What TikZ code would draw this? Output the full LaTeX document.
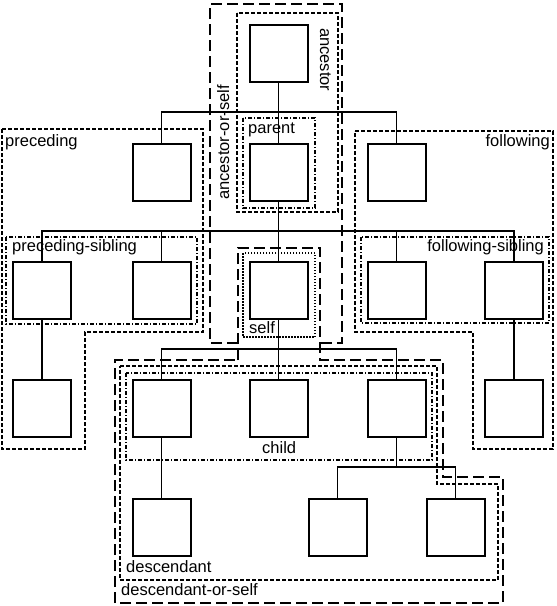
\documentclass[tikz,border=0pt]{standalone}
\usepackage{fontspec}
\setmainfont{Liberation Sans}
\begin{document}
\begin{tikzpicture}[x=1pt,y=-1pt,
  treebox/.style={draw,line width=2pt,minimum width=58pt,minimum height=57pt,inner sep=0pt},
  treeline/.style={line width=1.6pt},
  bigdash/.style={line width=2.4pt,dash pattern=on 11pt off 5pt},
  fdash/.style={line width=1.3pt,dash pattern=on 4pt off 2pt},
  ddot/.style={line width=1.1pt,dash pattern=on 4pt off 2pt on 1pt off 2pt},
  sdot/.style={line width=1.5pt,dash pattern=on 1.5pt off 1.5pt},
  lbl/.style={inner sep=0pt,font=\fontsize{16.5}{18}\selectfont}]
\useasboundingbox (0,0) rectangle (557,606);
% tree nodes
\node[treebox] (root) at (278.5,53) {};
\node[treebox] (prec) at (161.5,172) {};
\node[treebox] (par) at (278.5,172) {};
\node[treebox] (foll) at (396.5,172) {};
\node[treebox] (ps1) at (42,290) {};
\node[treebox] (ps2) at (161.5,290) {};
\node[treebox] (self) at (278.5,290) {};
\node[treebox] (fs1) at (396.5,290) {};
\node[treebox] (fs2) at (514,290) {};
\node[treebox] (pl) at (42,408) {};
\node[treebox] (ch1) at (161.5,408) {};
\node[treebox] (ch2) at (278.5,408) {};
\node[treebox] (ch3) at (396.5,408) {};
\node[treebox] (fl) at (514,408) {};
\node[treebox] (d1) at (161.5,527) {};
\node[treebox] (d2) at (337.5,527) {};
\node[treebox] (d3) at (455.5,527) {};
% bus coordinates
\coordinate (bus1) at (0,112);
\coordinate (bus2) at (0,231);
\coordinate (bus3) at (0,349);
\coordinate (bus4) at (0,467);
% connectors
\draw[treeline] (root.south) -- (par.north);
\draw[treeline] (prec.north) -- (prec.north |- bus1) -| (foll.north);
\draw[treeline] (par.south) -- (self.north);
\draw[treeline] (ps1.north) -- (ps1.north |- bus2) -| (fs2.north);
\draw[treeline] (ps2.north) -- (ps2.north |- bus2);
\draw[treeline] (fs1.north) -- (fs1.north |- bus2);
\draw[treeline] (self.south) -- (ch2.north);
\draw[treeline] (ch1.north) -- (ch1.north |- bus3) -| (ch3.north);
\draw[treeline] (ps1.south) -- (pl.north);
\draw[treeline] (fs2.south) -- (fl.north);
\draw[treeline] (ch1.south) -- (d1.north);
\draw[treeline] (ch3.south) -- (ch3.south |- bus4);
\draw[treeline] (d2.north) -- (d2.north |- bus4) -| (d3.north);
% regions
\draw[bigdash] (238,343) -- (210,343) -- (210,4) -- (342,4) -- (342,343) -- (320,343);
\draw[bigdash] (238,360) -- (238,248) -- (320,248) -- (320,360) -- (443,360) -- (443,477) -- (503,477) -- (503,603) -- (115,603) -- (115,360) -- cycle;
\draw[fdash] (237,13) rectangle (338,212);
\draw[ddot] (243,118) rectangle (315,208);
\draw[sdot] (243,253) rectangle (315,337);
\draw[fdash] (2,129) -- (203,129) -- (203,332) -- (85,332) -- (85,449) -- (2,449) -- cycle;
\draw[ddot] (6,237) rectangle (197,324);
\draw[fdash] (355,131) -- (553,131) -- (553,449) -- (473,449) -- (473,332) -- (355,332) -- cycle;
\draw[ddot] (361,237) rectangle (549,323);
\draw[ddot] (126,373) rectangle (432,460);
\draw[fdash] (120,366) -- (437,366) -- (437,484) -- (498,484) -- (498,580) -- (120,580) -- cycle;
% labels
\node[lbl,anchor=base west] (lprec) at (5,146) {preceding};
\node[lbl,anchor=base east] (lfoll) at (550,146) {following};
\node[lbl,anchor=base west] (lps) at (12,251) {preceding-sibling};
\node[lbl,anchor=base east] (lfs) at (544,251) {following-sibling};
\node[lbl,anchor=base west] (lpar) at (248,133) {parent};
\node[lbl,anchor=base west] (lself) at (249,333) {self};
\node[lbl,anchor=base west] (lchild) at (262,453) {child};
\node[lbl,anchor=base west] (ldesc) at (126,572) {descendant};
\node[lbl,anchor=base west] (ldos) at (121,595) {descendant-or-self};
\node[lbl,anchor=base west,rotate=-90] (lanc) at (320,28) {ancestor};
\node[lbl,anchor=base west,rotate=90] (laos) at (229,200) {ancestor-or-self};
\end{tikzpicture}
\end{document}
